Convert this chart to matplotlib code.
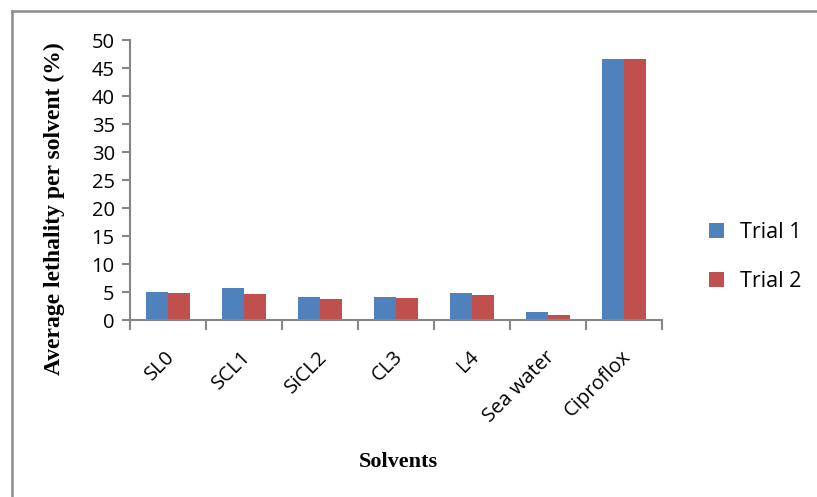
import matplotlib
matplotlib.use("Agg")
import matplotlib.pyplot as plt
import numpy as np
from matplotlib.lines import Line2D
from matplotlib.patches import Patch
import matplotlib.transforms as mtransforms

categories = ["SL0", "SCL1", "SiCL2", "CL3", "L4", "Sea water", "Ciproflox"]
trial1 = [5.0, 5.7, 4.1, 4.1, 4.9, 1.4, 46.6]
trial2 = [4.8, 4.6, 3.7, 3.9, 4.5, 0.85, 46.6]
series_names = ["Trial 1", "Trial 2"]
yticks = list(range(0, 51, 5))

BLUE = "#4F81BD"
RED = "#C0504D"
AXIS_GREY = "#868686"
SANS = ["Open Sans", "DejaVu Sans"]
SERIF = ["Liberation Serif", "DejaVu Serif"]

W, H = 817, 497
fig = plt.figure(figsize=(W / 100, H / 100), dpi=100)

# plot area in pixel coordinates
left, right, top, bottom = 130, 662, 40, 320
ax = fig.add_axes([left / W, 1 - bottom / H, (right - left) / W, (bottom - top) / H])

x = np.arange(len(categories))
bw = 0.29
ax.bar(x - bw / 2, trial1, width=bw, color=BLUE, label=series_names[0], zorder=2)
ax.bar(x + bw / 2, trial2, width=bw, color=RED, label=series_names[1], zorder=2)

ax.set_xlim(-0.5, len(categories) - 0.5)
ax.set_ylim(0, 50)
ax.set_yticks(yticks)
ax.set_yticklabels([str(v) for v in yticks], fontsize=14.5, family=SANS)

# category separators as x tick marks, labels placed separately
ax.set_xticks(np.arange(-0.5, len(categories), 1.0))
ax.set_xticklabels([])
ax.tick_params(axis="x", length=7, width=1.5, color=AXIS_GREY, direction="out")
ax.tick_params(axis="y", length=6, width=1.5, color=AXIS_GREY, direction="out", pad=5)

for s in ("top", "right"):
    ax.spines[s].set_visible(False)
for s in ("left", "bottom"):
    ax.spines[s].set_color(AXIS_GREY)
    ax.spines[s].set_linewidth(1.5)

# rotated category labels ending below each group centre
offset = mtransforms.ScaledTranslation(4 / 100, -34 / 100, fig.dpi_scale_trans)
for xi, name in zip(x, categories):
    ax.text(xi, 0, name, rotation=45, rotation_mode="anchor", ha="right", va="center",
            fontsize=14.5, family=SANS,
            transform=ax.get_xaxis_transform() + offset)

fig.text(54 / W, 1 - 209 / H, "Average lethality per solvent (%)", rotation=90,
         ha="center", va="center", fontsize=17, fontweight="bold", family=SERIF)
fig.text(398 / W, 1 - 462 / H, "Solvents", ha="center", va="center",
         fontsize=16, fontweight="bold", family=SERIF)

handles = [Patch(facecolor=BLUE), Patch(facecolor=RED)]
fig.legend(handles, series_names, loc="center left",
           bbox_to_anchor=(690 / W, 1 - 257 / H), frameon=False,
           prop={"family": SANS, "size": 15.5}, handlelength=0.7, handleheight=0.7,
           labelspacing=1.3, handletextpad=0.7)

# outer chart border (top and left edges visible)
fig.add_artist(Line2D([11.5 / W, 11.5 / W], [0, 1 - 10.5 / H], color="#8C8C8C", lw=1.8,
                      transform=fig.transFigure))
fig.add_artist(Line2D([11.5 / W, 1], [1 - 10.5 / H, 1 - 10.5 / H], color="#8C8C8C", lw=1.8,
                      transform=fig.transFigure))

fig.savefig("out.png", dpi=100)
